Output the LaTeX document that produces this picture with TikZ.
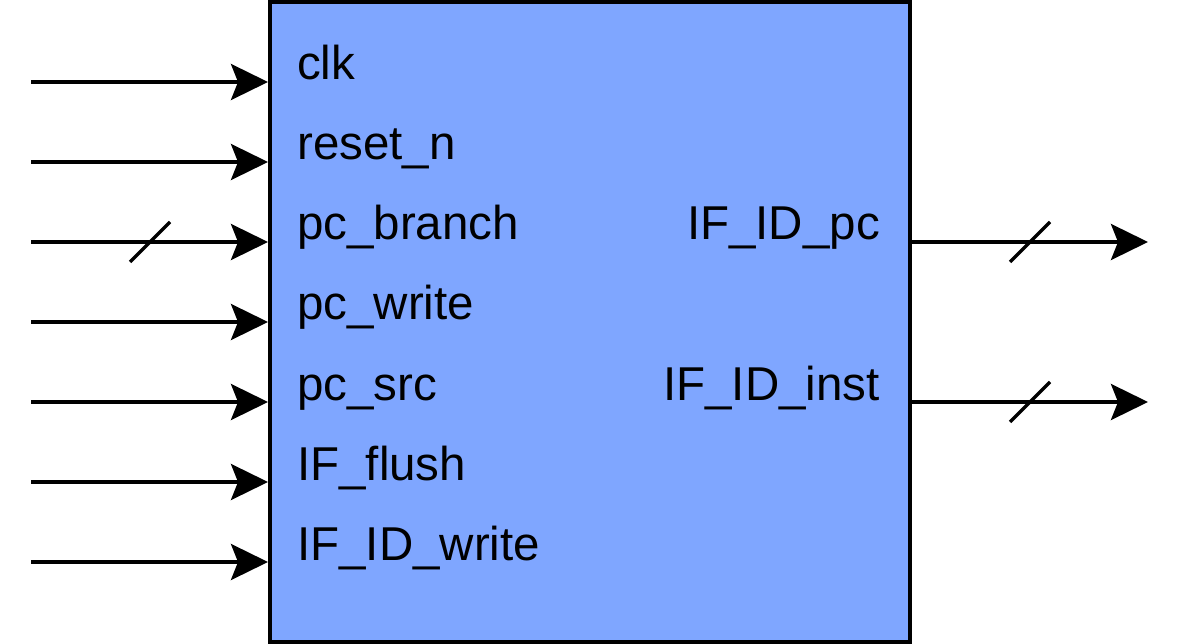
\documentclass[tikz,border=0pt]{standalone}
\usepackage{fontspec}
\setmainfont{Liberation Sans}
\usetikzlibrary{arrows.meta}
\definecolor{blkfill}{RGB}{127,166,255}
\begin{document}
\begin{tikzpicture}[x=1pt,y=-1pt,
  sig/.style={line width=3.5pt,-{Stealth[length=37pt,width=36pt,inset=7pt]}},
  bus/.style={line width=3.5pt},
  lbl/.style={inner sep=0pt,font=\fontsize{47.5}{57}\selectfont},
  blkbox/.style={draw=black,line width=4pt,fill=blkfill,minimum width=640pt,minimum height=640pt,inner sep=0pt}]
\useasboundingbox (0,0) rectangle (1184,644);
\node[blkbox] (blk) at (590,322) {};
% input labels
\node[lbl,anchor=base west] (lclk) at (297,80) {clk};
\node[lbl,anchor=base west] (lrst) at (297,160) {reset\_n};
\node[lbl,anchor=base west] (lpcb) at (297,240) {pc\_branch};
\node[lbl,anchor=base west] (lpcw) at (297,320) {pc\_write};
\node[lbl,anchor=base west] (lpcs) at (297,400) {pc\_src};
\node[lbl,anchor=base west] (lifl) at (297,480) {IF\_flush};
\node[lbl,anchor=base west] (lifw) at (297,560) {IF\_ID\_write};
% output labels
\node[lbl,anchor=base east] (lopc) at (880,240) {IF\_ID\_pc};
\node[lbl,anchor=base east] (loin) at (880,400) {IF\_ID\_inst};
% input start points
\coordinate (i1) at (31,82);
\coordinate (i2) at (31,162);
\coordinate (i3) at (31,242);
\coordinate (i4) at (31,322);
\coordinate (i5) at (31,402);
\coordinate (i6) at (31,482);
\coordinate (i7) at (31,562);
\foreach \n in {1,...,7} {
  \draw[sig] (i\n) -- (blk.west |- i\n);
}
% output end points
\coordinate (o1) at (1148,242);
\coordinate (o2) at (1148,402);
\draw[sig] (blk.east |- o1) -- (o1);
\draw[sig] (blk.east |- o2) -- (o2);
% bus slashes
\coordinate (s1) at (150,242);
\coordinate (s2) at (1030,242);
\coordinate (s3) at (1030,402);
\foreach \s in {s1,s2,s3} {
  \draw[bus] ([shift={(-20,20)}]\s) -- ([shift={(20,-20)}]\s);
}
\end{tikzpicture}
\end{document}
